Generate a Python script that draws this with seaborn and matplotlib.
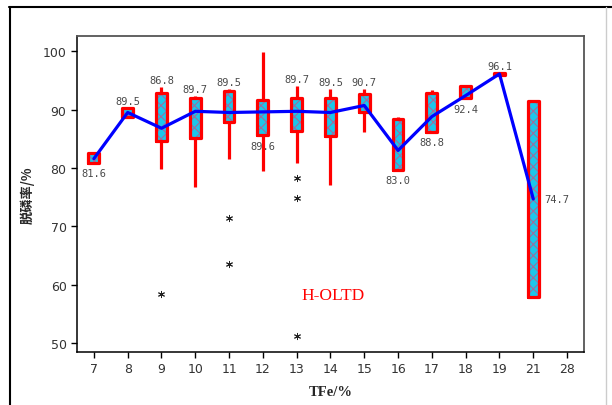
import numpy as np
import pandas as pd
import matplotlib
matplotlib.use("Agg")
import matplotlib.pyplot as plt
from matplotlib.lines import Line2D
import seaborn as sb

### dati
tfe = ["7", "8", "9", "10", "11", "12", "13", "14", "15", "16", "17", "18", "19", "21"]
order = tfe + ["28"]
whisker_low = [80.9, 88.8, 79.8, 76.8, 81.6, 79.4, 80.9, 77.1, 86.2, 79.7, 86.2, 91.9, 96.0, 58.0]
q1 = [80.9, 88.8, 84.7, 85.2, 87.9, 85.6, 86.3, 85.5, 89.5, 79.7, 86.2, 91.9, 96.0, 58.0]
median = [81.6, 89.5, 86.8, 89.7, 89.5, 89.6, 89.7, 89.5, 90.7, 83.0, 88.8, 92.4, 96.1, 74.7]
q3 = [82.5, 90.2, 92.9, 92.0, 93.2, 91.6, 91.9, 92.0, 92.6, 88.3, 92.9, 94.0, 96.3, 91.45]
whisker_high = [82.5, 90.2, 93.85, 92.4, 93.6, 99.8, 94.0, 93.6, 93.45, 88.7, 93.3, 94.25, 96.3, 91.45]
outlier_tfe = ["9", "11", "11", "13", "13", "13"]
outlier_val = [58.5, 71.4, 63.5, 78.2, 74.8, 51.2]

# dove mettere le etichette (sopra / sotto / destra)
label_pos = ["below", "above", "above", "above", "above", "below", "above",
             "above", "above", "below", "below", "below", "above", "right"]

rows = []
for i, t in enumerate(tfe):
    for v in [whisker_low[i], q1[i], median[i], q3[i], whisker_high[i]]:
        rows.append([t, v])
df = pd.DataFrame(rows, columns=["TFe", "val"])
out = pd.DataFrame({"TFe": outlier_tfe, "val": outlier_val})

sb.set_style("white")
plt.rcParams["font.family"] = ["DejaVu Sans", "Noto Sans CJK SC"]
plt.rcParams["hatch.linewidth"] = 0.8

fig = plt.figure(figsize=(6.12, 4.06), dpi=100)
ax = fig.add_axes([0.1258, 0.1305, 0.8284, 0.7785])

### box riempiti con tratteggio
sb.boxplot(data=df, x="TFe", y="val", order=order, whis=np.inf, width=0.32,
           color="#1cc6ea", linecolor="#9a6fa0", linewidth=0.6, showcaps=False,
           showfliers=False, saturation=1, medianprops={"visible": False},
           whiskerprops={"visible": False}, ax=ax)
for p in ax.patches:
    p.set_hatch("xxx")

### contorni rossi e baffi
sb.boxplot(data=df, x="TFe", y="val", order=order, whis=np.inf, width=0.32,
           fill=False, color="red", linewidth=2.3, showcaps=False,
           showfliers=False, medianprops={"visible": False}, ax=ax)

### outlier
sb.stripplot(data=out, x="TFe", y="val", order=order, jitter=False,
             marker=(6, 2, 0), color="#222222", edgecolor="#222222", linewidth=0.7,
             size=4.5, ax=ax)

### linea delle mediane
sb.pointplot(x=tfe, y=median, order=order, color="blue", markers="",
             errorbar=None, linewidth=2.3, zorder=5, ax=ax)

for i, t in enumerate(tfe):
    if label_pos[i] == "above":
        xy, off, ha = (i, whisker_high[i]), (0, 5), "center"
    elif label_pos[i] == "below":
        xy, off, ha = (i, q1[i]), (0, -7.5), "center"
    else:
        xy, off, ha = (i, median[i]), (8, 0), "left"
    ax.annotate(f"{median[i]:.1f}", xy=xy, xytext=off, textcoords="offset points",
                ha=ha, va="center", fontsize=7.5, family="DejaVu Sans Mono",
                color="#4a4a4a", zorder=6)

ax.text(0.505, 0.18, "H-OLTD", transform=ax.transAxes, color="red",
        fontsize=12.5, family="Liberation Serif", ha="center", va="center")

ax.set_ylim(48.5, 102.6)
ax.set_xlim(-0.5, len(order) - 0.5)
ax.set_yticks([50, 60, 70, 80, 90, 100])
ax.tick_params(axis="both", direction="out", length=4, width=1, color="black",
               labelsize=9, labelcolor="#333333", bottom=True, left=True)
for s in ["left", "bottom"]:
    ax.spines[s].set_color("black")
    ax.spines[s].set_linewidth(1.1)
for s in ["top", "right"]:
    ax.spines[s].set_color("#555555")
    ax.spines[s].set_linewidth(1.3)

ax.set_xlabel("TFe/%", fontsize=10.5, fontweight="bold", family="Liberation Serif")
ax.set_ylabel("脱磷率/%", fontsize=9.5, fontweight="bold",
              family=["Noto Sans CJK SC", "DejaVu Sans"])
ax.xaxis.set_label_coords(0.5, -0.104)
ax.yaxis.set_label_coords(-0.083, 0.5)

### cornice esterna
fig.add_artist(Line2D([9 / 612, 1], [1 - 8 / 406] * 2, color="black", lw=1.5,
                      transform=fig.transFigure))
fig.add_artist(Line2D([10 / 612] * 2, [0, 1 - 8 / 406], color="black", lw=1.5,
                      transform=fig.transFigure))
fig.add_artist(Line2D([606 / 612] * 2, [0, 1 - 8 / 406], color="#cccccc", lw=1,
                      transform=fig.transFigure))

fig.savefig("out.png", dpi=100)
